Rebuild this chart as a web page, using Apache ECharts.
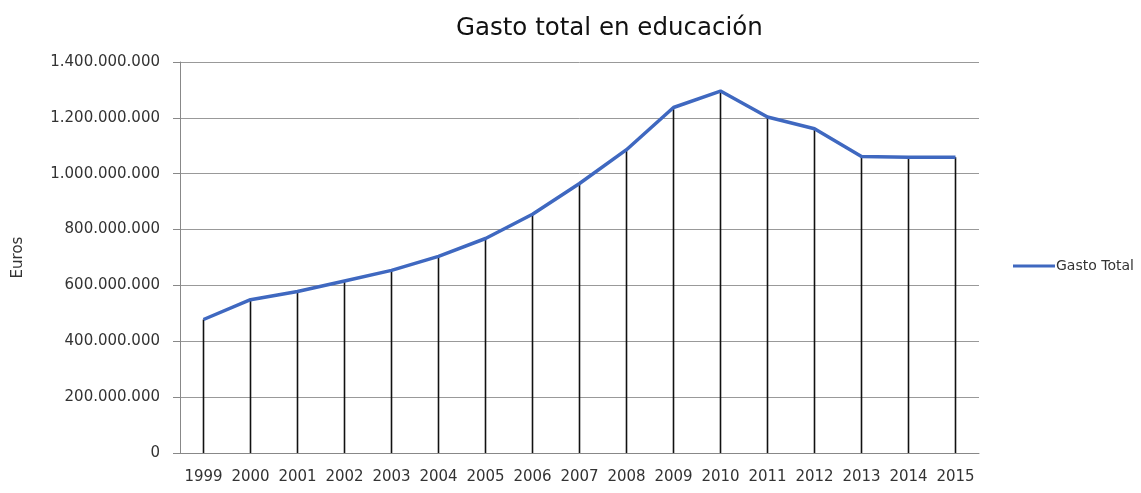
<!DOCTYPE html>
<html>
<head>
<meta charset="utf-8">
<script src="https://cdn.jsdelivr.net/npm/echarts@6/dist/echarts.min.js"></script>
<style>
  html, body { margin: 0; padding: 0; background: #fff; }
  #chart { width: 1141px; height: 493px; }
</style>
</head>
<body>
<div id="chart"></div>
<script>
// años
var years = ['1999', '2000', '2001', '2002', '2003', '2004', '2005', '2006', '2007',
  '2008', '2009', '2010', '2011', '2012', '2013', '2014', '2015']
// gasto total (euros)
var gastoTotal = [478000000, 549000000, 578000000, 616000000, 654000000, 704000000,
  768000000, 855000000, 965000000, 1086000000, 1237000000, 1296000000,
  1203000000, 1161000000, 1062000000, 1059000000, 1059000000]
var yTicks = { min: 0, max: 1400000000, interval: 200000000 }

// 1400000000 -> 1.400.000.000
function miles(v) {
  return String(v).replace(/\B(?=(\d{3})+(?!\d))/g, '.')
}

var chart = echarts.init(document.getElementById('chart'))
var font = 'DejaVu Sans'
chart.setOption({
  animation: false,
  textStyle: { fontFamily: font },
  title: {
    text: 'Gasto total en educación',
    left: 451,
    top: 11,
    textStyle: { fontFamily: font, fontSize: 24.5, fontWeight: 'normal', color: '#111' }
  },
  legend: {
    data: ['Gasto Total'],
    orient: 'vertical',
    left: 1008,
    top: 254,
    icon: 'rect',
    itemWidth: 42,
    itemHeight: 3,
    itemGap: 4,
    textStyle: { fontFamily: font, fontSize: 14, color: '#333', padding: [0, 0, 0, -4] }
  },
  grid: { left: 180, right: 162, top: 62, bottom: 40 },
  xAxis: {
    type: 'category',
    data: years,
    boundaryGap: true,
    axisLine: { lineStyle: { color: '#888', width: 1 } },
    axisTick: { show: false },
    axisLabel: { fontFamily: font, fontSize: 15, color: '#333', margin: 17, interval: 0 }
  },
  yAxis: {
    type: 'value',
    min: yTicks.min,
    max: yTicks.max,
    interval: yTicks.interval,
    name: 'Euros',
    nameLocation: 'middle',
    nameGap: 154,
    nameRotate: 90,
    nameTextStyle: { fontFamily: font, fontSize: 15, color: '#333' },
    axisLine: { show: true, lineStyle: { color: '#888', width: 1 } },
    axisTick: { show: true, length: 7, lineStyle: { color: '#888' } },
    axisLabel: { fontFamily: font, fontSize: 15, color: '#333', margin: 20, formatter: miles },
    splitLine: { lineStyle: { color: '#999', width: 1 } }
  },
  series: [
    {
      // líneas de caída
      name: 'caida',
      type: 'bar',
      data: gastoTotal,
      barWidth: 1.6,
      itemStyle: { color: '#111' },
      z: 1
    },
    {
      name: 'Gasto Total',
      type: 'line',
      data: gastoTotal,
      symbol: 'none',
      lineStyle: { color: '#3f68c0', width: 3.5 },
      itemStyle: { color: '#3f68c0' },
      z: 3
    }
  ]
})
</script>
</body>
</html>
